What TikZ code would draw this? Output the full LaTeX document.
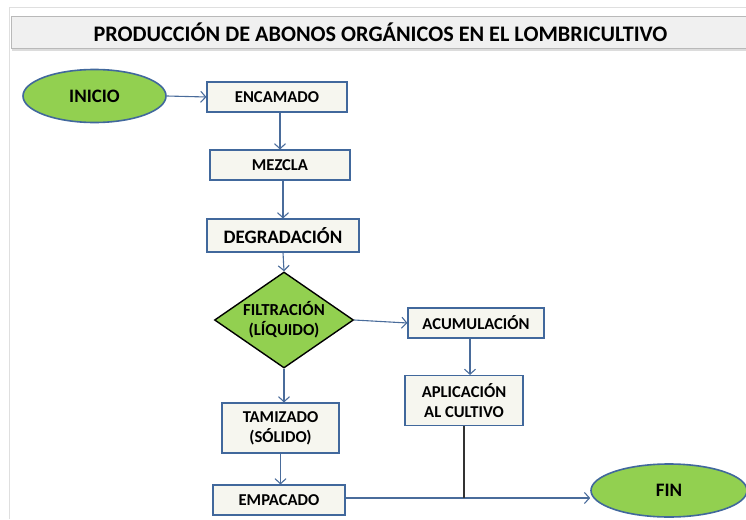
\documentclass[tikz,border=0pt]{standalone}
\usepackage{fontspec}
\setmainfont{Carlito}
\usetikzlibrary{shapes,arrows.meta,shadows}
\definecolor{verde}{HTML}{92D050}
\definecolor{azulborde}{HTML}{41689C}
\definecolor{crema}{HTML}{F6F6EF}
\definecolor{flecha}{HTML}{4A6C9B}
\tikzstyle{block} = [draw=azulborde, fill=crema, rectangle, line width=1.1pt,
    align=center, inner sep=0pt, font=\bfseries\fontsize{16.6}{20}\selectfont]
\tikzstyle{terminal} = [draw=azulborde, fill=verde, ellipse, line width=1.6pt,
    inner sep=0pt, font=\bfseries\fontsize{19}{22}\selectfont]
\tikzstyle{decision} = [draw=black, fill=verde, diamond, line width=1.4pt, inner sep=0pt]
\tikzstyle{line} = [draw=flecha, line width=1.1pt]

\begin{document}
\begin{tikzpicture}[x=1pt, y=-1pt, >={Straight Barb[length=5pt,width=11pt]}]
  \useasboundingbox (0,0) rectangle (746,519);
  % marco y titulo
  \draw [gray!25, line width=1pt] (9,519) -- (9,8) -- (746,8);
  \node [draw=gray!55, fill=gray!12, line width=0.8pt, minimum width=739pt, minimum height=32pt,
    drop shadow={shadow xshift=1pt, shadow yshift=-3pt, fill=gray!55},
    font=\bfseries\fontsize{22.2}{26}\selectfont] (titulo) at (380.5,32)
    {PRODUCCIÓN DE ABONOS ORGÁNICOS EN EL LOMBRICULTIVO};

  \node [terminal, minimum width=143pt, minimum height=53pt] (inicio) at (94.5,96) {INICIO};
  \node [block, minimum width=140pt, minimum height=30pt] (encamado) at (277,97) {ENCAMADO};
  \node [block, minimum width=140pt, minimum height=30pt] (mezcla) at (280,165) {MEZCLA};
  \node [block, minimum width=152pt, minimum height=33pt, font=\bfseries\fontsize{19}{22}\selectfont]
    (degradacion) at (283,235.5) {DEGRADACIÓN};
  \node [decision, minimum width=139pt, minimum height=96pt,
    label={[align=center, font=\bfseries\fontsize{16.8}{20}\selectfont]center:FILTRACIÓN\\(LÍQUIDO)}]
    (filtracion) at (284,320) {};
  \node [block, minimum width=136pt, minimum height=30pt] (acumulacion) at (476,323) {ACUMULACIÓN};
  \node [block, minimum width=118pt, minimum height=50pt] (aplicacion) at (464,400.5) {APLICACIÓN\\AL CULTIVO};
  \node [block, minimum width=117pt, minimum height=50pt] (tamizado) at (280.5,428) {TAMIZADO\\(SÓLIDO)};
  \node [block, minimum width=132pt, minimum height=30pt] (empacado) at (279,500) {EMPACADO};
  \node [terminal, minimum width=156pt, minimum height=53pt] (fin) at (669,490.5) {FIN};

  \coordinate (junta) at (aplicacion.south |- 0,498);

  \draw [line,->] (inicio.east) -- (encamado.west);
  \draw [line,->] (encamado.south -| mezcla) -- (mezcla.north);
  \draw [line,->] (mezcla.south -| degradacion) -- (degradacion.north);
  \draw [line,->] (degradacion.south) -- (filtracion.north);
  \draw [line,->] (filtracion.east) -- (acumulacion.west);
  \draw [line,->] ([xshift=-6pt]acumulacion.south) -- ([xshift=6pt]aplicacion.north);
  \draw [line,->] (filtracion.south) -- (filtracion.south |- tamizado.north);
  \draw [line,->] (tamizado.south) -- (tamizado.south |- empacado.north);
  \draw [line,->] (empacado.east |- junta) -- (junta -| fin.west);
  \draw [draw=black!80, line width=1.1pt] (aplicacion.south) -- (junta);
\end{tikzpicture}
\end{document}
